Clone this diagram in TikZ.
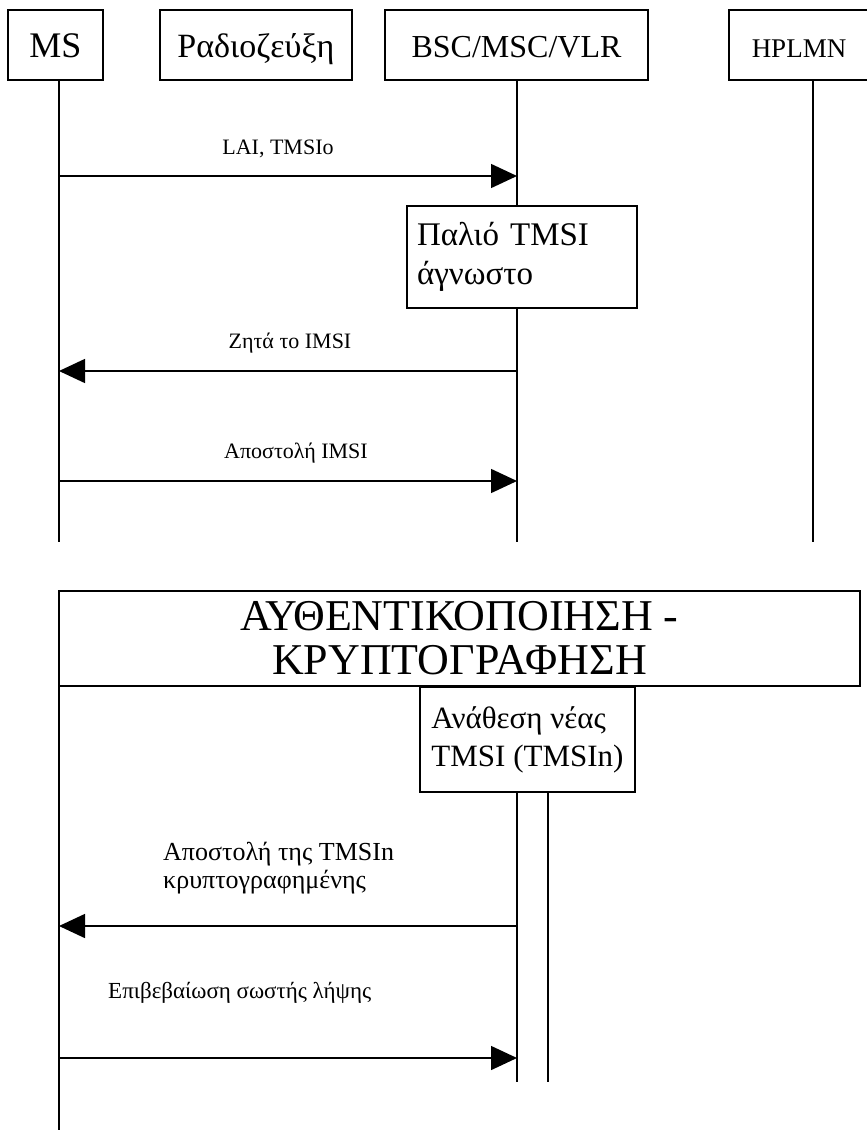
\documentclass[tikz,border=0pt]{standalone}
\usepackage{fontspec}
\setmainfont{Liberation Serif}
\usetikzlibrary{arrows.meta}

\tikzset{
  actor/.style={draw, line width=1.2pt, minimum height=70, inner sep=0pt, text height=28, text depth=4, font=\fontsize{32}{36}\selectfont},
  lifeline/.style={line width=1.2pt},
  msg/.style={line width=1.5pt, -{Triangle[length=26pt,width=24pt]}},
  msglabel/.style={font=\fontsize{22}{26}\selectfont, inner sep=0pt},
  notebox/.style={draw, line width=1.2pt, align=left, fill=white, font=\fontsize{33}{39}\selectfont}
}

\begin{document}
\begin{tikzpicture}[x=1pt, y=-1pt]
  \useasboundingbox (0,0) rectangle (867,1135);

  \node[actor, minimum width=95, font=\fontsize{36}{40}\selectfont] (ms) at (55.5,45) {MS};
  \node[actor, minimum width=192, font=\fontsize{34}{40}\selectfont] (radio) at (256,45) {Ραδιοζεύξη};
  \node[actor, minimum width=263] (bsc) at (516.5,45) {BSC/MSC/VLR};
  \node[actor, minimum width=140, font=\fontsize{27}{30}\selectfont] (hplmn) at (799,45) {HPLMN};

  \coordinate (msx) at (59,0);
  \coordinate (bscx) at (517,0);
  \coordinate (hpx) at (813,0);
  \coordinate (ax) at (548,0);
  \coordinate (top end) at (0,542);
  \coordinate (bottom end) at (0,1082);
  \coordinate (ms end) at (0,1130);

  \node[notebox, text width=210, inner xsep=10, minimum height=102] (old) at (522,257) {Παλιό TMSI\\άγνωστο};

  \draw[lifeline] (msx |- ms.south) -- (msx |- top end);
  \draw[lifeline] (bscx |- bsc.south) -- (bscx |- old.north);
  \draw[lifeline] (bscx |- old.south) -- (bscx |- top end);
  \draw[lifeline] (hpx |- hplmn.south) -- (hpx |- top end);

  \coordinate (m1) at (0,176);
  \draw[msg] (msx |- m1) -- (bscx |- m1);
  \node[msglabel, anchor=base] (l1) at (278,154) {LAI, TMSIo};

  \coordinate (m2) at (0,371);
  \draw[msg] (bscx |- m2) -- (msx |- m2);
  \node[msglabel, anchor=base] (l2) at (290,348) {Ζητά το IMSI};

  \coordinate (m3) at (0,481);
  \draw[msg] (msx |- m3) -- (bscx |- m3);
  \node[msglabel, anchor=base] (l3) at (296,458) {Αποστολή IMSI};

  \node[draw, line width=1.2pt, minimum width=801, minimum height=95, inner sep=1pt, align=center, font=\fontsize{44}{44}\selectfont] (auth) at (459.5,638.5) {ΑΥΘΕΝΤΙΚΟΠΟΙΗΣΗ -\\ΚΡΥΠΤΟΓΡΑΦΗΣΗ};
  \node[notebox, minimum width=215, minimum height=105, font=\fontsize{31}{38}\selectfont] (new) at (527.5,739.5) {Ανάθεση νέας\\TMSI (TMSIn)};

  \draw[lifeline] (msx |- auth.south) -- (msx |- ms end);
  \draw[lifeline] (bscx |- new.south) -- (bscx |- bottom end);
  \draw[lifeline] (ax |- new.south) -- (ax |- bottom end);

  \coordinate (m4) at (0,926);
  \draw[msg] (bscx |- m4) -- (msx |- m4);
  \node[msglabel, align=left, anchor=north west, font=\fontsize{26}{28}\selectfont] (l4) at (163,842) {Αποστολή της TMSIn\\κρυπτογραφημένης};

  \coordinate (m5) at (0,1058);
  \draw[msg] (msx |- m5) -- (bscx |- m5);
  \node[msglabel, anchor=base west, font=\fontsize{23}{26}\selectfont] (l5) at (108,998) {Επιβεβαίωση σωστής λήψης};
\end{tikzpicture}
\end{document}
